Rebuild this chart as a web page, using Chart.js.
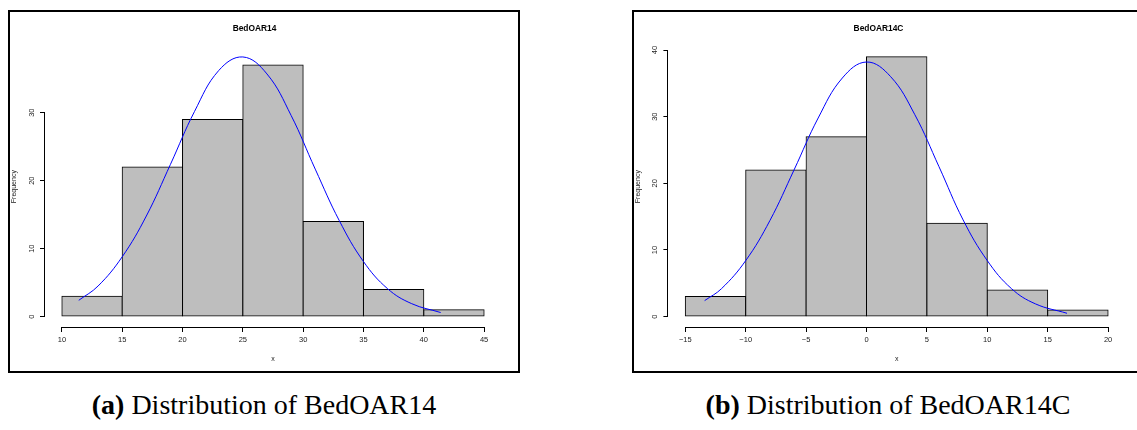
<!DOCTYPE html>
<html>
<head>
<meta charset="utf-8">
<script src="https://cdn.jsdelivr.net/npm/chart.js@4/dist/chart.umd.min.js"></script>
<style>
  html, body { margin: 0; padding: 0; background: #fff; }
  body { width: 1137px; height: 430px; position: relative; overflow: hidden; }
  .box { position: absolute; top: 10px; height: 359px; border: 2px solid #000; }
  .cv { position: absolute; top: 0; }
  .cap {
    position: absolute; top: 391px; width: 520px; text-align: center;
    font-family: "Liberation Serif", serif; font-size: 28px; line-height: 28px; color: #000;
  }
  .cap b { font-weight: bold; }
</style>
</head>
<body>
<div class="box" style="left:8px;width:508px"></div>
<div class="box" style="left:632px;width:520px"></div>
<div class="cv" style="left:0;width:520px;height:380px"><canvas id="histA"></canvas></div>
<div class="cv" style="left:624px;width:513px;height:380px"><canvas id="histB"></canvas></div>
<div class="cap" style="left:4px"><b>(a)</b> Distribution of BedOAR14</div>
<div class="cap" style="left:628px"><b>(b)</b> Distribution of BedOAR14C</div>

<script>
// BedOAR14
const edgesA = [10, 15, 20, 25, 30, 35, 40, 45];
const countsA = [3, 22, 29, 37, 14, 4, 1];
const curveXA = [11.4, 13, 15, 17, 19, 21, 23, 25, 27, 29, 31, 33, 35, 37, 39, 41.4];
const curveYA = [2.4, 4.5, 8.8, 14.8, 22.4, 30.2, 36.2, 38.2, 35.7, 29.6, 21.7, 14.1, 8.1, 4.1, 1.9, 0.6];
const xTicksA = [10, 15, 20, 25, 30, 35, 40, 45];
const yTicksA = [0, 10, 20, 30];

// BedOAR14C
const edgesB = [-15, -10, -5, 0, 5, 10, 15, 20];
const countsB = [3, 22, 27, 39, 14, 4, 1];
const curveXB = [-13.4, -12, -10, -8, -6, -4, -2, 0, 2, 4, 6, 8, 10, 12, 14, 16.6];
const curveYB = [2.4, 4.2, 8.4, 14.4, 22.0, 29.8, 35.8, 38.2, 36.0, 30.3, 22.5, 14.5, 8.4, 4.2, 1.9, 0.5];
const xTicksB = [-15, -10, -5, 0, 5, 10, 15, 20];
const yTicksB = [0, 10, 20, 30, 40];

const sans = '"Liberation Sans", Arial, sans-serif';
const minus = v => String(v).replace('-', '\u2212');

// R style axes: the line only spans the first to the last tick
const rAxes = {
  id: 'rAxes',
  afterDraw(chart) {
    const { ctx, chartArea, scales: { x, y } } = chart;
    const bx = Math.round(chartArea.bottom) + 0.5;
    const ly = Math.round(chartArea.left) - 0.5;
    ctx.save();
    ctx.strokeStyle = '#000';
    ctx.lineWidth = 1;
    ctx.beginPath();
    ctx.moveTo(x.getPixelForValue(x.ticks[0].value), bx);
    ctx.lineTo(x.getPixelForValue(x.ticks[x.ticks.length - 1].value), bx);
    ctx.moveTo(ly, y.getPixelForValue(y.ticks[0].value));
    ctx.lineTo(ly, y.getPixelForValue(y.ticks[y.ticks.length - 1].value));
    ctx.stroke();
    ctx.restore();
  }
};

function makeHist(id, title, edges, counts, cx, cy, xTicks, yTicks, xr, yr, yWidth, padRight) {
  const bars = counts.map((c, i) => ({ x: (edges[i] + edges[i + 1]) / 2, y: c }));
  const curve = cx.map((v, i) => ({ x: v, y: cy[i] }));
  new Chart(document.getElementById(id), {
    type: 'bar',
    data: {
      datasets: [{
        type: 'line',
        data: curve,
        borderColor: '#0000ff',
        borderWidth: 1,
        pointRadius: 0,
        tension: 0.4,
        fill: false,
        order: 0
      }, {
        type: 'bar',
        data: bars,
        backgroundColor: '#bebebe',
        borderColor: '#000',
        borderWidth: 1,
        borderSkipped: false,
        inflateAmount: 0.5,
        categoryPercentage: 1,
        barPercentage: 1,
        order: 1
      }]
    },
    plugins: [rAxes],
    options: {
      responsive: true,
      maintainAspectRatio: false,
      animation: false,
      layout: { padding: { left: 8, right: padRight, top: 0, bottom: 0 } },
      plugins: {
        legend: { display: false },
        tooltip: { enabled: false },
        title: {
          display: true,
          text: title,
          color: '#000',
          font: { family: sans, size: 8.4, weight: 'bold', lineHeight: 1.2 },
          padding: { top: 24, bottom: 12.2 }
        }
      },
      scales: {
        x: {
          type: 'linear',
          min: xr[0],
          max: xr[1],
          offset: false,
          afterBuildTicks: s => { s.ticks = xTicks.map(v => ({ value: v })); },
          afterFit: s => { s.height = 53; },
          grid: { display: true, drawOnChartArea: false, drawTicks: true, tickLength: 5, color: '#000', offset: false },
          border: { display: false },
          ticks: {
            color: '#222',
            font: { family: sans, size: 7.5 },
            padding: 3,
            maxRotation: 0,
            autoSkip: false,
            callback: v => minus(v)
          },
          title: {
            display: true,
            text: 'x',
            color: '#222',
            font: { family: sans, size: 7 },
            padding: { top: 0, bottom: 16.8 }
          }
        },
        y: {
          type: 'linear',
          min: yr[0],
          max: yr[1],
          afterBuildTicks: s => { s.ticks = yTicks.map(v => ({ value: v })); },
          afterFit: s => { s.width = yWidth; },
          grid: { display: true, drawOnChartArea: false, drawTicks: true, tickLength: 5, color: '#000' },
          border: { display: false },
          ticks: {
            color: '#222',
            font: { family: sans, size: 7.5 },
            padding: 4.3,
            minRotation: 90,
            maxRotation: 90,
            crossAlign: 'center',
            autoSkip: false,
            callback: v => minus(v)
          },
          title: {
            display: true,
            text: 'Frequency',
            color: '#222',
            font: { family: sans, size: 7 },
            padding: { top: 1.8, bottom: 0 }
          }
        }
      }
    }
  });
}

makeHist('histA', 'BedOAR14', edgesA, countsA, curveXA, curveYA, xTicksA, yTicksA,
  [8.6, 46.4], [-1.53, 39.77], 37, 19);
makeHist('histB', 'BedOAR14C', edgesB, countsB, curveXB, curveYB, xTicksB, yTicksB,
  [-16.4, 21.4], [-1.56, 40.56], 36.4, 12);
</script>
</body>
</html>
